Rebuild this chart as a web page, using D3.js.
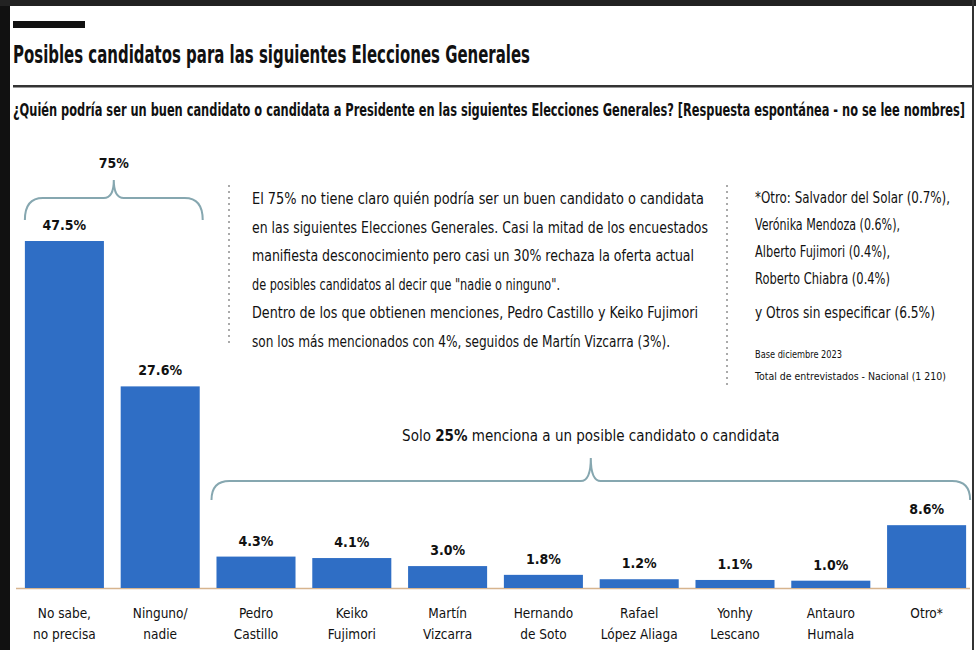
<!DOCTYPE html>
<html><head><meta charset="utf-8">
<script src="https://cdn.jsdelivr.net/npm/d3@7"></script>
<style>
html,body{margin:0;padding:0;background:#fff;}
svg text{font-family:"Liberation Sans Narrow","DejaVu Sans Condensed","Liberation Sans",sans-serif;font-stretch:condensed;fill:#111;}
</style></head>
<body>
<svg id="c" width="976" height="650"></svg>
<script>
const categories = ["No sabe, no precisa","Ninguno/ nadie","Pedro Castillo","Keiko Fujimori","Martín Vizcarra","Hernando de Soto","Rafael López Aliaga","Yonhy Lescano","Antauro Humala","Otro*"];
const labelLines = [["No sabe,","no precisa"],["Ninguno/","nadie"],["Pedro","Castillo"],["Keiko","Fujimori"],["Martín","Vizcarra"],["Hernando","de Soto"],["Rafael","López Aliaga"],["Yonhy","Lescano"],["Antauro","Humala"],["Otro*"]];
const values = [47.5,27.6,4.3,4.1,3.0,1.8,1.2,1.1,1.0,8.6];
const valueLabels = ["47.5%","27.6%","4.3%","4.1%","3.0%","1.8%","1.2%","1.1%","1.0%","8.6%"];
const title = "Posibles candidatos para las siguientes Elecciones Generales";
const subtitle = "¿Quién podría ser un buen candidato o candidata a Presidente en las siguientes Elecciones Generales? [Respuesta espontánea - no se lee nombres]";
const noteLines = ["El 75% no tiene claro quién podría ser un buen candidato o candidata","en las siguientes Elecciones Generales. Casi la mitad de los encuestados","manifiesta desconocimiento pero casi un 30% rechaza la oferta actual","de posibles candidatos al decir que \"nadie o ninguno\".","Dentro de los que obtienen menciones, Pedro Castillo y Keiko Fujimori","son los más mencionados con 4%, seguidos de Martín Vizcarra (3%)."];
const noteWidths = [452,456,442,308,446,418];
const otroLines = ["*Otro: Salvador del Solar (0.7%),","Verónika Mendoza (0.6%),","Alberto Fujimori (0.4%),","Roberto Chiabra (0.4%)","y Otros sin especificar (6.5%)"];
const otroWidths = [195,145,135,135,180];
const baseLines = ["Base diciembre 2023","Total de entrevistados - Nacional (1 210)"];
const baseWidths = [87,191];
const groupLabel1 = "75%";
const groupLabel2 = ["Solo ","25%"," menciona a un posible candidato o candidata"];

const svg = d3.select("#c");
// frame
svg.append("rect").attr("x",0).attr("y",0).attr("width",976).attr("height",650).attr("fill","#fff");
svg.append("rect").attr("x",0).attr("y",0).attr("width",10).attr("height",650).attr("fill","#111");
svg.append("rect").attr("x",0).attr("y",0).attr("width",976).attr("height",6).attr("fill","#222");
svg.append("rect").attr("x",972).attr("y",0).attr("width",2).attr("height",650).attr("fill","#333");
svg.append("rect").attr("x",13).attr("y",21).attr("width",72).attr("height",7).attr("fill","#111");

svg.append("text").attr("x",13).attr("y",63).attr("font-size",25).attr("font-weight","bold")
  .attr("textLength",517).attr("lengthAdjust","spacingAndGlyphs").text(title);
svg.append("rect").attr("x",13).attr("y",85).attr("width",959).attr("height",2.5).attr("fill","#333");
svg.append("text").attr("transform","translate(13,116) scale(1,1.4)").attr("x",0).attr("y",0)
  .attr("font-size",12).attr("font-weight","bold")
  .attr("textLength",952).attr("lengthAdjust","spacingAndGlyphs").text(subtitle);

const x = d3.scaleBand().domain(categories).range([16.5,974.5]).paddingInner(0.175).paddingOuter(0.0875);
const y = d3.scaleLinear().domain([0,50]).range([588,588-50*7.305]);

// baseline
svg.append("line").attr("x1",16).attr("x2",970).attr("y1",y(0)+0.5).attr("y2",y(0)+0.5)
  .attr("stroke","#d7b48e").attr("stroke-width",1.5);

const g = svg.append("g");
g.selectAll("rect.bar").data(categories).join("rect").attr("class","bar")
  .attr("x",d=>x(d)).attr("width",x.bandwidth())
  .attr("y",(d,i)=>y(values[i])).attr("height",(d,i)=>y(0)-y(values[i]))
  .attr("fill","#2f6ec5");
g.selectAll("text.val").data(categories).join("text").attr("class","val")
  .attr("x",d=>x(d)+x.bandwidth()/2).attr("y",(d,i)=>y(values[i])-11)
  .attr("text-anchor","middle").attr("font-size",14).attr("font-weight","bold")
  .text((d,i)=>valueLabels[i]);
const cl = g.selectAll("text.cat").data(categories).join("text").attr("class","cat")
  .attr("text-anchor","middle").attr("font-size",13.5);
cl.each(function(d,i){
  const t=d3.select(this);
  labelLines[i].forEach((l,j)=>{
    t.append("tspan").attr("x",x(d)+x.bandwidth()/2).attr("y",618+j*21).text(l);
  });
});

// braces
function brace(x0,x1,yEnd,yLine,yPeak){
  const xp=(x0+x1)/2, r=18, r2=10;
  return `M${x0},${yEnd} Q${x0},${yLine} ${x0+r},${yLine} L${xp-r2},${yLine} Q${xp},${yLine} ${xp},${yPeak} Q${xp},${yLine} ${xp+r2},${yLine} L${x1-r},${yLine} Q${x1},${yLine} ${x1},${yEnd}`;
}
const b1x0 = x(categories[0]), b1x1 = x(categories[1])+x.bandwidth()+3;
svg.append("path").attr("d",brace(b1x0,b1x1,220,198,180)).attr("fill","none").attr("stroke","#86a7b0").attr("stroke-width",2);
svg.append("text").attr("x",(b1x0+b1x1)/2).attr("y",168).attr("text-anchor","middle").attr("font-size",14).attr("font-weight","bold").text(groupLabel1);

const b2x0 = x(categories[2])-5, b2x1 = x(categories[9])+x.bandwidth()+4;
svg.append("path").attr("d",brace(b2x0,b2x1,500,481,458)).attr("fill","none").attr("stroke","#86a7b0").attr("stroke-width",2);
const t2 = svg.append("text").attr("x",(b2x0+b2x1)/2).attr("y",441).attr("text-anchor","middle").attr("font-size",15);
t2.append("tspan").text(groupLabel2[0]);
t2.append("tspan").attr("font-weight","bold").text(groupLabel2[1]);
t2.append("tspan").text(groupLabel2[2]);

// note boxes
svg.append("line").attr("x1",229).attr("x2",229).attr("y1",185).attr("y2",347)
  .attr("stroke","#aaa").attr("stroke-width",2).attr("stroke-dasharray","2,4");
noteLines.forEach((l,i)=>{
  svg.append("text").attr("x",252).attr("y",204+i*28.5).attr("font-size",15)
    .attr("textLength",noteWidths[i]).attr("lengthAdjust","spacingAndGlyphs").text(l);
});
svg.append("line").attr("x1",727).attr("x2",727).attr("y1",185).attr("y2",385)
  .attr("stroke","#aaa").attr("stroke-width",2).attr("stroke-dasharray","2,4");
otroLines.forEach((l,i)=>{
  svg.append("text").attr("x",755).attr("y",(i<4?203+i*27:318)).attr("font-size",15)
    .attr("textLength",otroWidths[i]).attr("lengthAdjust","spacingAndGlyphs").text(l);
});
baseLines.forEach((l,i)=>{
  svg.append("text").attr("x",755).attr("y",358+i*22).attr("font-size",11)
    .attr("textLength",baseWidths[i]).attr("lengthAdjust","spacingAndGlyphs").text(l);
});
</script>
</body></html>
